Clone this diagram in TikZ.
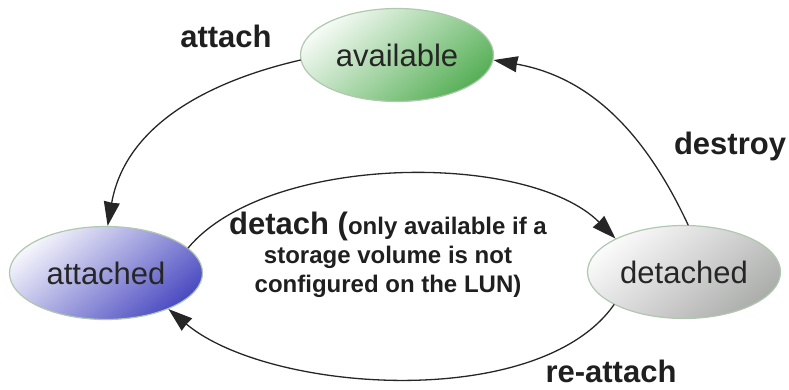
\documentclass[tikz,border=0pt]{standalone}
\usepackage{fontspec}
\setmainfont{Liberation Sans}
\usepackage{tikz}
\usetikzlibrary{arrows.meta,shapes.geometric}
\usepackage{xcolor}
\definecolor{availgreen}{RGB}{88,176,88}
\definecolor{attblue}{RGB}{76,76,194}
\definecolor{detgray}{RGB}{172,174,172}
\definecolor{rimgray}{RGB}{176,200,176}
\definecolor{inkgray}{RGB}{38,38,38}

\begin{document}
\begin{tikzpicture}[x=1pt,y=1pt,>={Stealth[length=24pt,width=16pt,inset=0.5pt]},line cap=round,
  state/.style={ellipse,draw=rimgray,line width=1.2pt,minimum width=193pt,minimum height=93pt,
    inner sep=0pt,text=inkgray,font=\fontsize{31}{31}\selectfont},
  statefill/.style={top color=#1!6!white,middle color=#1!40!white,bottom color=#1,shading angle=40},
  trans/.style={->,line width=1.3pt,black!85},
  tlabel/.style={anchor=base,inner sep=0pt,text=black!88,font=\bfseries\fontsize{31}{31}\selectfont}]
\useasboundingbox (0,0) rectangle (789,390);
% states
\node[state,statefill=availgreen] (available) at (397,335) {available};
\node[state,statefill=attblue] (attached) at (106,117) {attached};
\node[state,statefill=detgray] (detached) at (684,118) {detached};
% transitions
\draw[trans] (available.183) to[out=193,in=80] (attached.88);
\draw[trans] (detached.85) to[out=115,in=-10] (available.-3);
\draw[trans] (attached.17) to[out=50,in=135,looseness=0.74] (detached.154);
\draw[trans] (detached.205) to[out=235,in=-40,looseness=0.75] (attached.-30);
% labels
\node[tlabel] (attachlbl) at (226,342) {attach};
\node[tlabel] (destroylbl) at (730,235) {destroy};
\node[tlabel] (reattachlbl) at (611,7) {re-attach};
\node[align=center,inner sep=0pt,text=black!88,font=\bfseries\fontsize{24}{29}\selectfont] (detachlbl) at (388,135)
  {{\fontsize{31}{31}\selectfont detach (}only available if a\\storage volume is not\\configured on the LUN)};
\end{tikzpicture}
\end{document}
